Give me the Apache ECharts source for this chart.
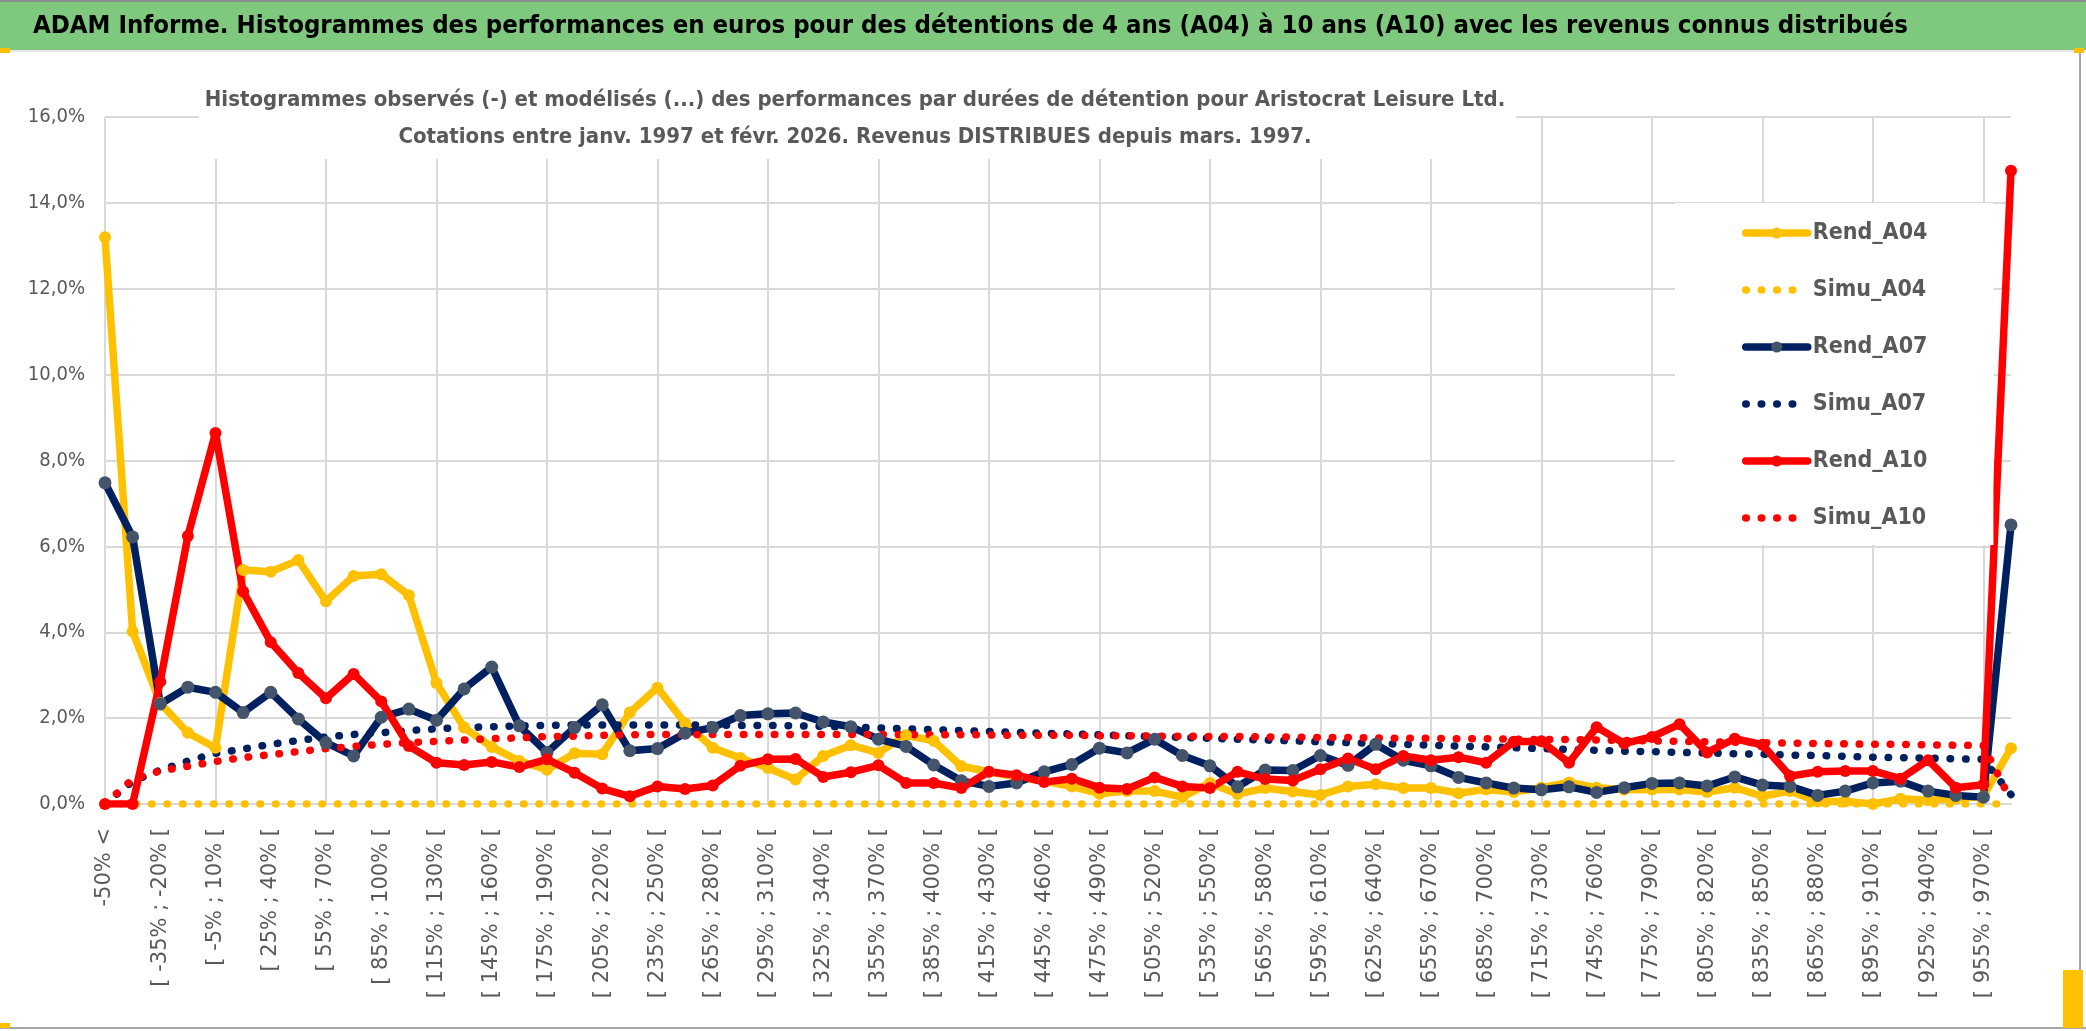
<!DOCTYPE html>
<html>
<head>
<meta charset="utf-8">
<script src="https://cdn.jsdelivr.net/npm/echarts@6/dist/echarts.min.js"></script>
<style>
html,body{margin:0;padding:0;background:#ffffff;}
#chart{width:2086px;height:1031px;}
</style>
</head>
<body>
<div id="chart"></div>
<script>
const categories = ["-50% <", "[ -50% ; -35% [", "[ -35% ; -20% [", "[ -20% ; -5% [", "[ -5% ; 10% [", "[ 10% ; 25% [", "[ 25% ; 40% [", "[ 40% ; 55% [", "[ 55% ; 70% [", "[ 70% ; 85% [", "[ 85% ; 100% [", "[ 100% ; 115% [", "[ 115% ; 130% [", "[ 130% ; 145% [", "[ 145% ; 160% [", "[ 160% ; 175% [", "[ 175% ; 190% [", "[ 190% ; 205% [", "[ 205% ; 220% [", "[ 220% ; 235% [", "[ 235% ; 250% [", "[ 250% ; 265% [", "[ 265% ; 280% [", "[ 280% ; 295% [", "[ 295% ; 310% [", "[ 310% ; 325% [", "[ 325% ; 340% [", "[ 340% ; 355% [", "[ 355% ; 370% [", "[ 370% ; 385% [", "[ 385% ; 400% [", "[ 400% ; 415% [", "[ 415% ; 430% [", "[ 430% ; 445% [", "[ 445% ; 460% [", "[ 460% ; 475% [", "[ 475% ; 490% [", "[ 490% ; 505% [", "[ 505% ; 520% [", "[ 520% ; 535% [", "[ 535% ; 550% [", "[ 550% ; 565% [", "[ 565% ; 580% [", "[ 580% ; 595% [", "[ 595% ; 610% [", "[ 610% ; 625% [", "[ 625% ; 640% [", "[ 640% ; 655% [", "[ 655% ; 670% [", "[ 670% ; 685% [", "[ 685% ; 700% [", "[ 700% ; 715% [", "[ 715% ; 730% [", "[ 730% ; 745% [", "[ 745% ; 760% [", "[ 760% ; 775% [", "[ 775% ; 790% [", "[ 790% ; 805% [", "[ 805% ; 820% [", "[ 820% ; 835% [", "[ 835% ; 850% [", "[ 850% ; 865% [", "[ 865% ; 880% [", "[ 880% ; 895% [", "[ 895% ; 910% [", "[ 910% ; 925% [", "[ 925% ; 940% [", "[ 940% ; 955% [", "[ 955% ; 970% [", "970% >"];

const rendA04 = [13.2, 4.02, 2.35, 1.66, 1.31, 5.45, 5.41, 5.68, 4.72, 5.31, 5.35, 4.86, 2.82, 1.78, 1.33, 1.0, 0.8, 1.18, 1.16, 2.13, 2.71, 1.88, 1.31, 1.07, 0.84, 0.57, 1.12, 1.37, 1.19, 1.6, 1.47, 0.88, 0.75, 0.63, 0.53, 0.41, 0.24, 0.30, 0.30, 0.16, 0.49, 0.23, 0.37, 0.29, 0.21, 0.41, 0.46, 0.37, 0.37, 0.25, 0.34, 0.28, 0.38, 0.50, 0.38, 0.33, 0.34, 0.34, 0.28, 0.38, 0.18, 0.30, 0.06, 0.06, 0.0, 0.12, 0.09, 0.12, 0.18, 1.3];
const simuA04 = [0, 0, 0, 0, 0, 0, 0, 0, 0, 0, 0, 0, 0, 0, 0, 0, 0, 0, 0, 0, 0, 0, 0, 0, 0, 0, 0, 0, 0, 0, 0, 0, 0, 0, 0, 0, 0, 0, 0, 0, 0, 0, 0, 0, 0, 0, 0, 0, 0, 0, 0, 0, 0, 0, 0, 0, 0, 0, 0, 0, 0, 0, 0, 0, 0, 0, 0, 0, 0, 0];
const rendA07 = [7.48, 6.22, 2.33, 2.72, 2.60, 2.13, 2.60, 1.98, 1.43, 1.12, 2.02, 2.21, 1.95, 2.68, 3.19, 1.82, 1.20, 1.78, 2.31, 1.24, 1.29, 1.65, 1.78, 2.06, 2.10, 2.12, 1.91, 1.80, 1.51, 1.34, 0.91, 0.54, 0.41, 0.49, 0.75, 0.92, 1.30, 1.19, 1.51, 1.13, 0.89, 0.40, 0.79, 0.78, 1.13, 0.90, 1.39, 1.02, 0.89, 0.62, 0.49, 0.37, 0.33, 0.40, 0.27, 0.38, 0.48, 0.49, 0.42, 0.63, 0.44, 0.41, 0.20, 0.30, 0.49, 0.53, 0.30, 0.20, 0.16, 6.5];
const simuA07 = [0, 0.53, 0.79, 1.0, 1.18, 1.28, 1.39, 1.48, 1.56, 1.62, 1.66, 1.71, 1.75, 1.78, 1.80, 1.82, 1.83, 1.84, 1.84, 1.84, 1.84, 1.84, 1.84, 1.83, 1.83, 1.82, 1.81, 1.79, 1.77, 1.75, 1.73, 1.71, 1.69, 1.67, 1.65, 1.63, 1.61, 1.59, 1.57, 1.55, 1.53, 1.51, 1.49, 1.47, 1.45, 1.43, 1.41, 1.39, 1.37, 1.35, 1.33, 1.31, 1.29, 1.27, 1.25, 1.23, 1.22, 1.20, 1.19, 1.17, 1.16, 1.14, 1.13, 1.11, 1.09, 1.08, 1.07, 1.05, 1.04, 0.22];
const rendA10 = [0, 0, 2.85, 6.24, 8.64, 4.95, 3.77, 3.05, 2.46, 3.03, 2.39, 1.35, 0.96, 0.91, 0.98, 0.86, 1.04, 0.73, 0.36, 0.18, 0.41, 0.35, 0.43, 0.89, 1.04, 1.05, 0.63, 0.74, 0.90, 0.49, 0.49, 0.37, 0.75, 0.67, 0.51, 0.59, 0.38, 0.35, 0.62, 0.41, 0.37, 0.75, 0.58, 0.55, 0.81, 1.06, 0.81, 1.12, 1.02, 1.09, 0.96, 1.45, 1.46, 0.96, 1.79, 1.41, 1.56, 1.86, 1.20, 1.52, 1.38, 0.65, 0.75, 0.77, 0.77, 0.59, 1.02, 0.38, 0.45, 14.75];
const simuA10 = [0, 0.58, 0.77, 0.88, 0.99, 1.08, 1.15, 1.22, 1.29, 1.34, 1.39, 1.43, 1.46, 1.49, 1.52, 1.54, 1.57, 1.58, 1.60, 1.61, 1.62, 1.62, 1.62, 1.62, 1.62, 1.62, 1.62, 1.62, 1.62, 1.62, 1.61, 1.61, 1.61, 1.60, 1.60, 1.60, 1.59, 1.59, 1.58, 1.58, 1.57, 1.57, 1.56, 1.56, 1.55, 1.55, 1.54, 1.53, 1.53, 1.52, 1.52, 1.51, 1.50, 1.50, 1.49, 1.48, 1.47, 1.46, 1.45, 1.44, 1.43, 1.42, 1.41, 1.40, 1.39, 1.39, 1.38, 1.37, 1.36, 0.08];

const seriesNames = ["Rend_A04", "Simu_A04", "Rend_A07", "Simu_A07", "Rend_A10", "Simu_A10"];
const mainTitle = "ADAM Informe. Histogrammes des performances en euros pour des détentions de 4 ans (A04) à 10 ans (A10) avec les revenus connus distribués";
const subTitle1 = "Histogrammes observés (-) et modélisés (...) des performances par durées de détention pour Aristocrat Leisure Ltd.";
const subTitle2 = "Cotations entre janv. 1997 et févr. 2026. Revenus DISTRIBUES depuis mars. 1997.";

const NARROW = "'DejaVu Sans Condensed', 'Liberation Sans', sans-serif";
const YELLOW = '#FFC000', NAVY = '#002060', NAVY_MK = '#44546A', RED = '#FF0000';
const LW = 7.5;

function rend(name, data, lineColor, markerColor, size) {
  return {
    name: name, type: 'line', data: data,
    symbol: 'circle', symbolSize: size, showSymbol: true,
    lineStyle: { color: lineColor, width: LW, cap: 'round', join: 'round' },
    itemStyle: { color: markerColor, borderWidth: 0 },
    emphasis: { disabled: true }, silent: true
  };
}
function simu(name, data, color) {
  return {
    name: name, type: 'line', data: data,
    symbol: 'none', showSymbol: false,
    lineStyle: { color: color, width: LW, type: [0.5, 15], cap: 'round', join: 'round' },
    itemStyle: { color: color },
    emphasis: { disabled: true }, silent: true
  };
}

const chart = echarts.init(document.getElementById('chart'), null, { renderer: 'canvas' });
chart.setOption({
  animation: false,
  backgroundColor: '#ffffff',
  grid: { left: 105, right: 75, top: 117, bottom: 227, containLabel: false, outerBoundsMode: 'none' },
  xAxis: {
    type: 'category', data: categories, boundaryGap: false,
    axisLine: { show: true, lineStyle: { color: '#d9d9d9', width: 2 } },
    axisTick: { show: false },
    axisLabel: { interval: 1, rotate: 90, margin: 24, color: '#595959', fontSize: 21, fontFamily: 'DejaVu Sans' },
    splitLine: { show: true, interval: 3, lineStyle: { color: '#d9d9d9', width: 2 } }
  },
  yAxis: {
    type: 'value', min: 0, max: 16, interval: 2,
    axisLine: { show: false }, axisTick: { show: false },
    axisLabel: { margin: 20, color: '#595959', fontSize: 20, fontFamily: NARROW,
      formatter: function (v) { return v.toFixed(1).replace('.', ',') + '%'; } },
    splitLine: { show: true, lineStyle: { color: '#d9d9d9', width: 2 } }
  },
  legend: {
    orient: 'vertical', left: 1675, top: 203,
    backgroundColor: '#ffffff',
    padding: [15, 66, 12, 67],
    itemWidth: 62, itemHeight: 14, itemGap: 27,
    lineStyle: { width: LW },
    textStyle: { fontFamily: NARROW, fontSize: 23, fontWeight: 'bold', color: '#595959', lineHeight: 30 },
    data: [
      { name: seriesNames[0] },
      { name: seriesNames[1], itemStyle: { opacity: 0 } },
      { name: seriesNames[2] },
      { name: seriesNames[3], itemStyle: { opacity: 0 } },
      { name: seriesNames[4] },
      { name: seriesNames[5], itemStyle: { opacity: 0 } }
    ],
    selectedMode: false
  },
  graphic: [
    { type: 'rect', z: 10, shape: { x: 0, y: 0, width: 2086, height: 50 }, style: { fill: '#7fc97f' } },
    { type: 'rect', z: 10, shape: { x: 0, y: 0, width: 2086, height: 2 }, style: { fill: '#8c8c8c' } },
    { type: 'rect', z: 10, shape: { x: 0, y: 50, width: 2086, height: 2 }, style: { fill: '#e6e6e6' } },
    { type: 'text', z: 11, x: 33, y: 26, style: { text: mainTitle, fill: '#000000', font: "bold 25.5px " + NARROW, textVerticalAlign: 'middle', textAlign: 'left' } },
    { type: 'rect', z: 10, shape: { x: 199, y: 56, width: 1317, height: 103 }, style: { fill: '#ffffff' } },
    { type: 'text', z: 11, x: 855, y: 100, style: { text: subTitle1, fill: '#595959', font: "bold 22px " + NARROW, textVerticalAlign: 'middle', textAlign: 'center' } },
    { type: 'text', z: 11, x: 855, y: 137, style: { text: subTitle2, fill: '#595959', font: "bold 22px " + NARROW, textVerticalAlign: 'middle', textAlign: 'center' } },
    { type: 'rect', z: 10, shape: { x: 2079, y: 52, width: 2, height: 977 }, style: { fill: '#a6a6a6' } },
    { type: 'rect', z: 10, shape: { x: 0, y: 1027, width: 2086, height: 2 }, style: { fill: '#a6a6a6' } },
    { type: 'rect', z: 11, shape: { x: 0, y: 48, width: 10, height: 5 }, style: { fill: '#FFC000' } },
    { type: 'rect', z: 11, shape: { x: 2074, y: 48, width: 10, height: 5 }, style: { fill: '#FFC000' } },
    { type: 'rect', z: 11, shape: { x: 0, y: 1023, width: 10, height: 5 }, style: { fill: '#FFC000' } },
    { type: 'rect', z: 11, shape: { x: 2063, y: 970, width: 20, height: 58 }, style: { fill: '#FFC000' } }
  ],
  series: [
    rend(seriesNames[0], rendA04, YELLOW, YELLOW, 12),
    simu(seriesNames[1], simuA04, YELLOW),
    rend(seriesNames[2], rendA07, NAVY, NAVY_MK, 13),
    simu(seriesNames[3], simuA07, NAVY),
    rend(seriesNames[4], rendA10, RED, RED, 12),
    simu(seriesNames[5], simuA10, RED)
  ]
});
</script>
</body>
</html>
